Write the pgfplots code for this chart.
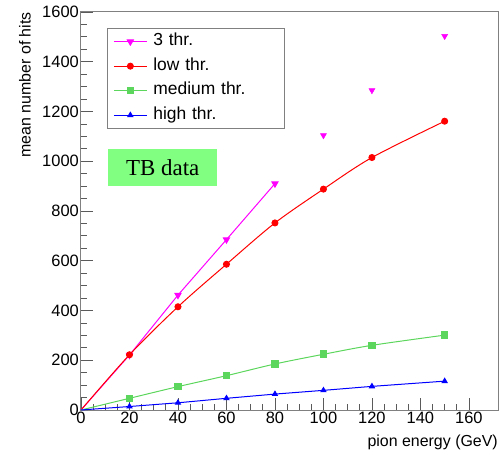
\documentclass[border=0pt]{standalone}
\usepackage{fontspec}
\setmainfont{Liberation Sans}
\newfontfamily\timesfont{Liberation Serif}
\usepackage{pgfplots}
\pgfplotsset{compat=1.18}
\definecolor{thrthree}{HTML}{FF00FF}
\definecolor{thrlow}{HTML}{FF0000}
\definecolor{thrmed}{HTML}{5CD65C}
\definecolor{thrhigh}{HTML}{0000FF}
\definecolor{tbfill}{HTML}{80FF80}
\definecolor{framec}{HTML}{808080}

\begin{document}
\begin{tikzpicture}
\begin{axis}[
  name=ax,
  scale only axis,
  width=417bp, height=398bp,
  xmin=0, xmax=172, ymin=0, ymax=1600,
  xtick={0,20,...,160},
  ytick={0,200,...,1600},
  minor x tick num=3,
  minor y tick num=3,
  xtick pos=bottom, ytick pos=left,
  tick align=inside,
  major tick length=12bp,
  minor tick length=6bp,
  tick style={framec!70!black, line width=0.8bp},
  axis line style={framec, line width=1bp},
  /pgf/number format/assume math mode=true,
  /pgf/number format/1000 sep={},
  tick label style={font=\fontsize{16.5}{19}\selectfont},
  xticklabel style={inner sep=1bp, yshift=-1bp},
  yticklabel style={inner sep=1bp, xshift=-1bp},
  xlabel={pion energy (GeV)},
  ylabel={mean number of hits},
  label style={font=\fontsize{16}{19}\selectfont, inner sep=0pt},
  xlabel style={at={(axis description cs:1,-0.062)}, anchor=north east},
  ylabel style={at={(axis description cs:-0.12,1)}, anchor=south east},
  legend style={
    at={(axis description cs:0.062,0.96)}, anchor=north west,
    draw=framec, line width=1bp,
    font=\fontsize{17.5}{20}\selectfont,
    inner xsep=6bp, inner ysep=1bp,
    nodes={text width=119bp, align=left, inner xsep=6bp, text height=12bp, text depth=3.5bp, inner ysep=4.5bp},
  },
  legend cell align=left,
  legend image code/.code={
    \draw[mark indices={2}] plot coordinates {(0bp,0bp)(16.5bp,0bp)(33bp,0bp)};
  },
]
% 3 thr. (line up to 80 GeV)
\addplot[color=thrthree, line width=1bp, mark=triangle*, mark size=3.5bp,
  mark options={rotate=180, solid}, mark indices={2,3,4,5}] coordinates {
  (0,0)(20,221)(40,462)(60,685)(80,910)
};
\addlegendentry{3 thr.}
\addplot[color=thrthree, only marks, mark=triangle*, mark size=3.5bp,
  mark options={rotate=180}, forget plot] coordinates {
  (100,1104)(120,1285)(150,1503)
};
% low thr.
\addplot[color=thrlow, line width=1bp, smooth, mark=*, mark size=3bp,
  mark indices={2,...,8}] coordinates {
  (0,0)(20,222)(40,415)(60,586)(80,752)(100,888)(120,1015)(150,1161)
};
\addlegendentry{low thr.}
% medium thr.
\addplot[color=thrmed, line width=1bp, smooth, mark=square*, mark size=3.3bp,
  mark indices={2,...,8}] coordinates {
  (0,0)(20,47)(40,94)(60,138)(80,185)(100,224)(120,260)(150,301)
};
\addlegendentry{medium thr.}
% high thr.
\addplot[color=thrhigh, line width=1bp, mark=triangle*, mark size=2.8bp,
  mark indices={2,...,8}] coordinates {
  (0,0)(20,14)(40,29)(60,47)(80,64)(100,79)(120,95)(150,116)
};
\addlegendentry{high thr.}
\node[anchor=north west, fill=tbfill, minimum width=109bp, minimum height=37bp,
  inner sep=0pt, font=\timesfont\fontsize{23}{26}\selectfont]
  at (axis description cs:0.065,0.656) {TB data};
\end{axis}
\pgfresetboundingbox
\path[use as bounding box] ([xshift=-81bp,yshift=-45bp]ax.south west)
  rectangle ([xshift=2bp,yshift=12bp]ax.north east);
\end{tikzpicture}
\end{document}
